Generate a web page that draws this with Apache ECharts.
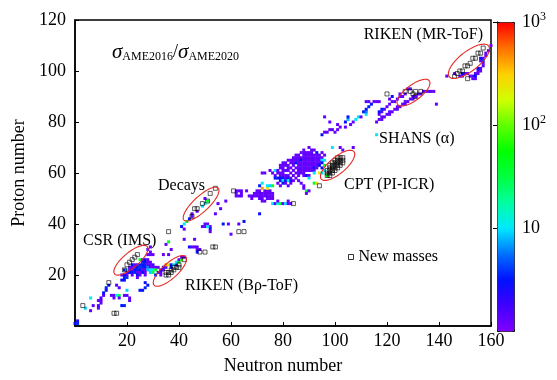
<!DOCTYPE html>
<html>
<head>
<meta charset="utf-8">
<script src="https://cdn.jsdelivr.net/npm/echarts@6/dist/echarts.min.js"></script>
<style>
  html, body { margin: 0; padding: 0; background: #fff; }
  #chart { width: 557px; height: 380px; }
</style>
</head>
<body>
<div id="chart"></div>
<script>
// [N, Z, sigma2016/sigma2020]
const lightCells = [
  [0,1,3],[1,1,3.5],[1,2,2.5],[4,7,9],[6,6,1.3],[6,11,10],[7,8,1.4],[9,7,1.3],[9,8,1.5],
  [10,9,1.3],[10,10,1.4],[9,10,1.2],[10,11,1.6],[11,12,1.4],[11,13,3],[12,14,3],[12,15,3.5],[13,16,3.2],
  [14,12,1.3],[15,12,1.4],[15,11,1.3],[16,12,10],[17,12,30],[17,11,1.4],[19,12,1.3],[20,12,1.5],
  [21,11,1.3],[21,10,1.4],[18,8,3],[19,8,3.5],[17,15,1.4],[16,16,1.3],[20,14,9],[18,18,3],[19,19,3.5],
  [19,18,3],[20,19,4],[18,20,1.4],[20,20,1.3],[19,20,3],
  [25,14,3],[26,14,3],[27,15,3.5],[27,17,3],[28,16,3]
];
const csrCells = [
  [22,24,3],[23,24,1.3],[24,24,1.4],[25,24,3.5],[26,24,3],[27,24,3.5],[28,24,1.3],[29,24,1.3],[30,24,1.5],
  [26,25,3.5],[27,25,3],[28,25,1.3],[29,25,1.4],[25,26,40],[26,26,1.3],[27,26,3],[28,26,1.3],
  [21,23,1.3],[22,23,1.3],[23,23,1.4],[24,23,3],[25,23,4],[26,23,3.5],[27,23,3],[28,23,6],[29,23,1.3],
  [30,23,1.3],[31,23,1.4],[19,22,3],[20,22,10],[21,22,1.3],[22,22,1.3],[23,22,3],[24,22,3.5],[25,22,3],
  [26,22,1.3],[27,22,1.3],[28,22,8],[29,22,10],[30,22,12],[31,22,40],[20,21,1.3],[21,21,3],[22,21,3],
  [23,21,3.5],[24,21,1.3],[25,21,1.3],[26,21,3],[27,21,1.3],[29,21,9],[30,21,30],[22,20,1.3],[24,20,3],
  [25,20,1.3],[27,20,1.3],[24,19,1.3],[28,28,1.3],[29,28,1.3],[29,29,1.3],[30,28,1.3],[29,31,1.3],[28,30,1.3]
];
const midCells = [
  [32,21,3],[33,21,1.3],[33,20,1.3],[31,20,3],[33,22,3],[34,22,1.3],[32,23,1.3],[34,23,3],[35,23,1.3],
  [35,24,450],[36,24,250],[37,24,3],[37,23,3],[38,24,10],[39,24,1.3],[39,25,10],[40,25,40],[40,26,1.3],
  [41,26,80],[41,27,1.3],[42,27,1.3],
  [34,28,1.3],[35,32,1.3],[36,33,40],[36,28,1.3],[37,30,1.3],[41,39,3],[42,38,1.3],[42,34,1.3],
  [44,31,3],[45,31,1.3],[46,31,1.3],[47,30,1.3],[48,30,1.3],[47,31,1.3],[47,29,3],[46,34,1.3],
  [42,40,10],[43,41,40],[44,42,3],[45,43,1.3],[45,44,1.3],[47,45,1.3],[49,47,10],[50,48,10],[51,49,40],[50,50,1.3],
  [49,39,1.3],[50,39,1.3],[50,40,1.3],[51,40,1.3],[52,39,1.3],[51,39,10],[52,38,3],[52,37,1.3],
  [54,44,1.3],[55,48,1.3],[56,46,1.3],[58,49,1.3],[57,40,3],[59,40,1.3],[60,36,1.3],[63,40,1.3],[65,41,3],
  [62,51,1.3],[63,51,1.3],[64,51,1.3],[62,52,1.3],[64,52,1.3],[62,53,1.3],[63,53,1.3],[64,53,1.3],
  [66,53,1.3],[67,51,1.3],[68,50,1.3],[68,51,1.3],[69,51,1.3],
  [70,53,1.3],[71,53,1.3],[73,53,1.3],[74,53,1.3],[75,53,1.4],
  [69,52,1.3],[70,52,1.3],[71,52,1.4],[72,52,1.3],[73,52,1.3],[74,52,1.3],[75,52,1.3],[76,52,1.3],
  [70,51,1.3],[71,51,1.3],[72,51,1.3],[73,51,1.3],[74,51,1.4],[75,51,1.3],[76,51,1.3],
  [71,50,1.3],[72,50,1.3],[74,50,1.3],[75,50,1.3],[76,50,1.3],[72,49,1.3],[73,49,1.3],
  [72,54,450],[74,54,250],[71,55,3.5],[72,56,10],[74,55,10],[75,55,9],[76,55,40],
  [72,60,1.3],[73,60,1.3],[75,61,1.3],[71,44,3],
  [76,48,10],[77,48,1.3],[78,48,15],[79,48,40],[80,48,1.3],[81,48,10],[82,48,1.3],[83,48,1.3],[78,49,1.3],[82,49,1.3]
];
const heavyCells = [
  [90,70,1.3],[99,70,10],[102,70,1.3],[103,69,1.3],[107,70,1.3],
  [88,69,1.3],[91,69,1.3],[92,69,1.3],
  [87,68,1.3],[88,68,1.3],[89,68,1.3],[90,68,1.3],[91,68,1.3],[93,68,3],[95,68,1.3],
  [85,67,1.3],[86,67,1.3],[88,67,1.3],[89,67,1.3],[90,67,1.3],[91,67,1.3],[92,67,1.3],[93,67,1.3],[94,67,1.3],[96,67,1.3],
  [84,66,1.3],[85,66,1.3],[86,66,1.3],[87,66,1.3],[88,66,1.3],[89,66,1.3],[90,66,1.3],[91,66,1.3],[92,66,1.3],
  [93,66,1.3],[94,66,1.3],[95,66,1.3],
  [82,65,1.3],[83,65,1.3],[84,65,1.3],[85,65,1.3],[86,65,1.3],[87,65,3],[88,65,1.3],[89,65,1.3],[90,65,1.3],
  [91,65,1.3],[92,65,1.3],[93,65,1.3],[94,65,1.3],[95,65,10],[96,65,10],
  [80,64,1.3],[81,64,1.3],[83,64,1.3],[84,64,1.3],[85,64,3],[86,64,1.3],[87,64,1.3],[88,64,1.3],[89,64,1.3],
  [90,64,1.3],[91,64,1.3],[92,64,1.3],[93,64,1.3],[94,64,1.3],[95,64,3],
  [79,63,1.3],[80,63,1.3],[81,63,1.3],[82,63,1.3],[84,63,1.3],[86,63,1.3],[87,63,1.3],[88,63,1.3],[89,63,1.3],
  [90,63,1.3],[91,63,1.3],[92,63,1.3],[93,63,1.3],[94,63,3],[96,63,40],
  [79,62,1.3],[80,62,1.3],[82,62,1.3],[83,62,1.3],[85,62,1.3],[86,62,1.3],[87,62,1.3],[88,62,1.3],[89,62,1.3],
  [90,62,1.3],[91,62,1.3],[92,62,3],[93,62,1.3],[95,62,3],
  [77,61,10],[78,61,1.3],[80,61,1.3],[81,61,1.3],[82,61,1.3],[84,61,1.3],[86,61,1.3],[87,61,1.3],[88,61,1.3],
  [89,61,1.3],[90,61,1.3],[91,61,1.3],[92,61,1.3],[96,61,10],
  [76,60,1.3],[78,60,1.3],[79,60,1.3],[80,60,1.3],[83,60,1.3],[85,60,1.3],[86,60,1.3],[87,60,1.3],[88,60,1.3],
  [92,60,10],[94,60,250],[95,60,10],
  [77,59,1.3],[79,59,1.3],[80,59,1.3],[81,59,1.3],[82,59,1.3],[84,59,1.3],[86,59,1.3],[88,59,1.3],[89,59,3],
  [90,59,1.3],[97,59,40],
  [77,58,3],[78,58,3],[79,58,3],[80,58,3],[81,58,1.3],[82,58,3],[83,58,1.3],[85,58,1.3],[90,58,10],
  [79,57,3],[80,57,10],[81,57,3],[82,57,10],[83,57,3],[84,57,1.3],[86,57,1.3],
  [78,56,1.3],[80,56,3],[81,56,1.3],[83,56,1.3],[87,56,1.3],[92,56,40],[93,56,250],
  [79,55,1.3],[82,55,1.3],[88,55,1.3],[88,54,1.3],[89,53,40],[90,53,1.3],[89,52,1.3],
  [95,75,3],[96,76,1.3],[97,76,1.3],[98,77,1.3],[99,77,1.3],[100,76,1.3],[101,77,1.3],[102,78,1.3],[104,78,1.3],
  [96,82,1.3],[98,80,1.3],[101,79,1.3],[104,80,3],[105,81,8],[105,82,3],[106,79,1.3],[107,80,1.3],
  [108,81,10],[109,82,10],[110,82,1.3],[111,84,3],[112,83,10],[112,84,6],[112,85,3],[113,86,3.5],[114,87,3],
  [112,88,1.3],[113,88,1.3],[115,88,1.3],[116,88,1.3],[117,88,1.3],[116,75,10],
  [116,80,1.3],[117,81,1.3],[118,81,1.3],[118,82,1.3],[119,82,1.3],[120,83,1.3],[121,83,1.3],[121,84,1.3],
  [122,84,1.3],[123,85,1.3],[124,85,1.3],[124,86,1.3],[125,86,1.3],[126,87,1.3],[127,87,1.3],[127,88,1.3],
  [128,88,1.3],[129,89,1.3],[130,89,1.3],[130,90,1.3],[131,90,1.3],[132,91,1.3],[133,91,1.3],[134,92,1.3],
  [135,92,1.3],[136,92,1.3],[137,92,1.3],[138,92,1.3],[139,87,1.3],
  [117,83,1.3],[118,84,1.3],[119,85,1.3],[120,86,1.3],[121,87,1.3],[122,88,1.3],[123,88,1.3],[124,89,1.3],
  [125,90,1.3],[126,90,1.3],[127,91,1.3],[117,84,3],[118,85,3.5],[122,90,3],[121,89,1.3],[125,91,1.3],
  [128,93,1.3],[129,93,1.3],
  [143,98,1.3],[146,99,1.3],[148,98,1.3],[149,98,1.3],[150,99,1.3],[151,99,1.3],[152,98,1.3],[153,98,1.3],
  [154,99,1.3],[155,99,1.3],[155,100,1.3],[156,100,1.3],[156,101,1.3],[157,102,1.3],[157,103,1.3],
  [156,104,1.3],[157,105,1.3],[158,106,1.3],[158,107,1.3],[159,108,1.3],[160,110,1.3],[153,97,1.3],[154,97,1.3],
  [149,99,3],[155,101,3],[156,105,3],[157,104,3.5],[154,98,3]
];
// [N, Z] nuclides with new masses
const newMasses = [
  [3,8],[13,17],[15,5],[16,5],[19,22],[20,24],[21,25],[22,26],[23,27],[24,28],
  [35,20],[36,20],[35,21],[36,21],[37,21],[37,22],[38,22],[38,23],[39,23],[40,23],[40,24],[42,26],
  [36,37],[48,29],[50,29],[53,31],[54,31],[63,37],[65,37],
  [45,43],[46,46],[47,46],[49,48],[51,49],[52,52],[54,54],[61,53],[84,48],[94,55],
  [101,66],[102,66],[103,66],[100,65],[101,65],[102,65],[103,65],[99,64],[100,64],[101,64],[102,64],[103,64],
  [98,63],[99,63],[100,63],[101,63],[102,63],[98,62],[99,62],[100,62],[101,62],[97,61],[98,61],[99,61],
  [100,61],[97,60],[98,60],[99,60],[97,59],[98,59],
  [120,91],[127,92],[129,92],[131,92],[133,92],[130,91],[131,90],
  [157,109],[155,107],[156,107],[153,105],[154,105],[152,103],[150,102],[151,102],[149,100],[148,100],
  [147,99],[146,98],[151,97]
];
// [N centre, Z centre, half-length, half-width, tilt deg]
const regions = [
  [21.5,25.8,8.2,3.0,40],
  [36.5,21.6,8.2,3.0,42],
  [48.5,47.8,9,3.0,43],
  [101,63,8.2,3.2,40],
  [130.2,91.5,7.6,3.0,37],
  [151.5,103.8,9.6,3.8,38]
];
const nTicks = [0, 160, 20];
const zTicks = [0, 120, 20];
const ratioRange = [1, 1000];

const serif = 'Liberation Serif';
const cells = [].concat(lightCells, csrCells, midCells, heavyCells)
  .map(c => [c[0], c[1], Math.log10(c[2])]);

const chart = echarts.init(document.getElementById('chart'), null, { renderer: 'canvas' });

const option = {
  animation: false,
  backgroundColor: '#fff',
  grid: [
    { left: 75, right: 66, top: 20, bottom: 48, show: true, borderColor: '#000', borderWidth: 1.5 },
    { left: 497, width: 17, top: 22, height: 309 }
  ],
  xAxis: [{
    type: 'value', min: nTicks[0], max: nTicks[1], interval: nTicks[2],
    name: 'Neutron number', nameLocation: 'middle', nameGap: 31,
    nameTextStyle: { fontFamily: serif, fontSize: 18, color: '#000' },
    axisLine: { lineStyle: { color: '#000', width: 1.5 } },
    axisTick: { inside: true, length: 4, lineStyle: { color: '#000' } },
    axisLabel: { fontFamily: serif, fontSize: 18, color: '#000', margin: 6, showMinLabel: false },
    splitLine: { show: false }
  }, {
    gridIndex: 1, type: 'value', show: false, min: 0, max: 1
  }],
  yAxis: [{
    type: 'value', min: zTicks[0], max: zTicks[1], interval: zTicks[2],
    name: 'Proton number', nameLocation: 'middle', nameGap: 39,
    nameTextStyle: { fontFamily: serif, fontSize: 18, color: '#000' },
    axisLine: { lineStyle: { color: '#000', width: 1.5 } },
    axisTick: { inside: true, length: 4, lineStyle: { color: '#000' } },
    axisLabel: { fontFamily: serif, fontSize: 18, color: '#000', margin: 9, showMinLabel: false },
    splitLine: { show: false }
  }, {
    gridIndex: 1, type: 'log', min: ratioRange[0], max: ratioRange[1], position: 'right',
    axisLine: { show: true, lineStyle: { color: '#000', width: 1 } },
    axisTick: { show: true, inside: true, length: 4, lineStyle: { color: '#000' } },
    splitLine: { show: false },
    axisLabel: {
      fontFamily: serif, fontSize: 18, color: '#000', margin: 8, showMinLabel: false,
      formatter: v => v === 10 ? '10' : '10{sup|' + Math.round(Math.log10(v)) + '}',
      rich: { sup: { fontFamily: serif, fontSize: 12, color: '#000', padding: [0, 0, 10, 0] } }
    }
  }],
  visualMap: {
    type: 'continuous', seriesIndex: 0, dimension: 2, min: 0, max: 3,
    left: 497, top: 22, itemWidth: 17, itemHeight: 309, padding: 0,
    calculable: false, realtime: false, showLabel: false, text: null,
    borderColor: '#000', borderWidth: 1,
    inRange: {
      color: ['#8000ff', '#4000ff', '#0010ff', '#0070ff', '#00e8ff', '#00ffa0', '#00ff40',
        '#00ff00', '#60ff00', '#d0ff00', '#ffd000', '#ff7000', '#ff0000']
    }
  },
  legend: {
    data: ['New masses'], left: 343, top: 244, itemWidth: 5, itemHeight: 5, icon: 'rect',
    itemStyle: { color: '#fff', borderColor: '#000', borderWidth: 1 },
    textStyle: { fontFamily: serif, fontSize: 16, color: '#000' }
  },
  graphic: [
    { type: 'text', x: 112, y: 52, style: {
      text: '{s|σ}{sub|AME2016}{sl|/}{s|σ}{sub|AME2020}', verticalAlign: 'middle',
      rich: {
        s: { fontFamily: serif, fontStyle: 'italic', fontSize: 21, fill: '#000' },
        sl: { fontFamily: serif, fontSize: 18, fill: '#000' },
        sub: { fontFamily: serif, fontSize: 12, fill: '#000', padding: [9, 0, 0, 0] }
      } } },
    { type: 'text', x: 483, y: 35, style: { text: 'RIKEN (MR-ToF)', align: 'right', verticalAlign: 'middle', font: '16px "Liberation Serif"', fill: '#000' } },
    { type: 'text', x: 379, y: 139, style: { text: 'SHANS (α)', verticalAlign: 'middle', font: '16px "Liberation Serif"', fill: '#000' } },
    { type: 'text', x: 344, y: 185, style: { text: 'CPT (PI-ICR)', verticalAlign: 'middle', font: '16px "Liberation Serif"', fill: '#000' } },
    { type: 'text', x: 158, y: 186, style: { text: 'Decays', verticalAlign: 'middle', font: '16px "Liberation Serif"', fill: '#000' } },
    { type: 'text', x: 83, y: 241, style: { text: 'CSR (IMS)', verticalAlign: 'middle', font: '16px "Liberation Serif"', fill: '#000' } },
    { type: 'text', x: 185, y: 286, style: { text: 'RIKEN (Bρ-ToF)', verticalAlign: 'middle', font: '16px "Liberation Serif"', fill: '#000' } }
  ],
  series: [{
    name: 'AME ratio', type: 'scatter', data: cells, symbol: 'rect', symbolSize: 3,
    itemStyle: { opacity: 1 }, silent: true, z: 2
  }, {
    name: 'New masses', type: 'scatter', data: newMasses, symbol: 'rect', symbolSize: 4,
    itemStyle: { color: 'rgba(255,255,255,0)', borderColor: '#000', borderWidth: 0.8 }, silent: true, z: 3
  }, {
    name: 'Regions', type: 'custom', data: regions, silent: true, z: 4,
    renderItem: function (params, api) {
      const c = api.coord([api.value(0), api.value(1)]);
      const s = api.size([1, 1]);
      const rx = api.value(2) * s[0], ry = api.value(3) * s[1];
      const a = api.value(4) * Math.PI / 180;
      const pts = [];
      for (let k = 0; k < 72; k++) {
        const t = k / 72 * 2 * Math.PI;
        const ex = rx * Math.cos(t), ey = ry * Math.sin(t);
        pts.push([c[0] + ex * Math.cos(a) - ey * Math.sin(a), c[1] - (ex * Math.sin(a) + ey * Math.cos(a))]);
      }
      return { type: 'polygon', shape: { points: pts }, style: { fill: 'none', stroke: '#e42a24', lineWidth: 1.1 } };
    }
  }]
};

chart.setOption(option);
</script>
</body>
</html>
